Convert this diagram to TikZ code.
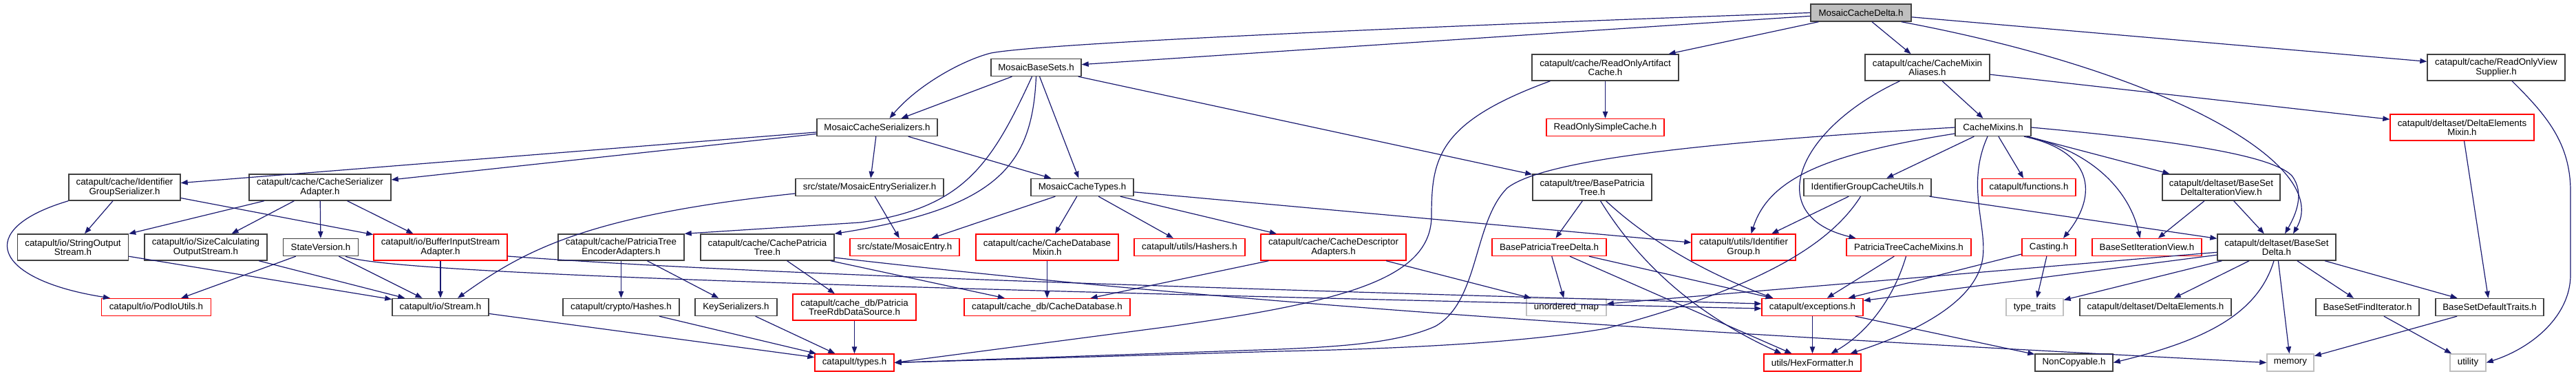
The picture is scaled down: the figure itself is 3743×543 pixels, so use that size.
\documentclass[tikz,border=0pt]{standalone}
\usepackage{fontspec}
\setmainfont{Liberation Sans}
\usetikzlibrary{arrows.meta}
\definecolor{edgec}{HTML}{191970}
\definecolor{bdark}{HTML}{404040}
\definecolor{bgray}{HTML}{BFBFBF}
\definecolor{bred}{HTML}{FF0000}
\begin{document}
\begin{tikzpicture}[x=1pt,y=-1pt,
  box/.style={draw=bdark, line width=1.4pt, rectangle, inner sep=0pt, align=center,
    font=\fontsize{13.33}{13.3}\selectfont, fill=white},
  redbox/.style={box, draw=bred},
  graybox/.style={box, draw=bgray},
  rootbox/.style={box, fill=bgray},
  one/.style={minimum height=25pt},
  two/.style={minimum height=38pt},
  conn/.style={draw=edgec, line width=1.2pt, -{Triangle[length=10pt,width=7.5pt]}},
]
\useasboundingbox (0,0) rectangle (3743,543);
% rank 0
\node[rootbox, one, minimum width=146pt] (delta) at (2704,18.5) {MosaicCacheDelta.h};
% rank 1
\node[box, one, minimum width=131pt] (basesets) at (1505.5,98) {MosaicBaseSets.h};
\node[box, two, minimum width=213pt] (roac) at (2332.5,98) {catapult/cache/ReadOnlyArtifact\\Cache.h};
\node[box, two, minimum width=181pt] (mixal) at (2800.5,98) {catapult/cache/CacheMixin\\Aliases.h};
\node[box, two, minimum width=200pt] (rovs) at (3627,98) {catapult/cache/ReadOnlyView\\Supplier.h};
% rank 2
\node[box, one, minimum width=175pt] (serials) at (1274.5,185) {MosaicCacheSerializers.h};
\node[redbox, one, minimum width=171pt] (rosc) at (2332.5,185) {ReadOnlySimpleCache.h};
\node[box, one, minimum width=110pt] (cmix) at (2896,185) {CacheMixins.h};
\node[redbox, two, minimum width=209pt] (demix) at (3577.5,185) {catapult/deltaset/DeltaElements\\Mixin.h};
% rank 3
\node[box, two, minimum width=162pt] (idgs) at (181,272) {catapult/cache/Identifier\\GroupSerializer.h};
\node[box, two, minimum width=206pt] (csa) at (465,272) {catapult/cache/CacheSerializer\\Adapter.h};
\node[box, one, minimum width=215pt] (mes) at (1263.5,272) {src/state/MosaicEntrySerializer.h};
\node[box, one, minimum width=149pt] (mct) at (1572.5,272) {MosaicCacheTypes.h};
\node[box, two, minimum width=173pt] (bpt) at (2313.5,272) {catapult/tree/BasePatricia\\Tree.h};
\node[box, one, minimum width=185pt] (igcu) at (2713.5,272) {IdentifierGroupCacheUtils.h};
\node[redbox, one, minimum width=136pt] (func) at (2948,272) {catapult/functions.h};
\node[box, two, minimum width=171pt] (bsdiv) at (3227.5,272) {catapult/deltaset/BaseSet\\DeltaIterationView.h};
% rank 4
\node[box, two, minimum width=161pt] (sos) at (106,359) {catapult/io/StringOutput\\Stream.h};
\node[box, two, minimum width=178pt] (scos) at (299,359) {catapult/io/SizeCalculating\\OutputStream.h};
\node[box, one, minimum width=109pt] (sv) at (466,359) {StateVersion.h};
\node[redbox, two, minimum width=194pt] (bisa) at (640,359) {catapult/io/BufferInputStream\\Adapter.h};
\node[box, two, minimum width=183pt] (ptea) at (902.5,359) {catapult/cache/PatriciaTree\\EncoderAdapters.h};
\node[box, two, minimum width=194pt] (cpt) at (1115,359) {catapult/cache/CachePatricia\\Tree.h};
\node[redbox, one, minimum width=159pt] (me) at (1314.5,359) {src/state/MosaicEntry.h};
\node[redbox, two, minimum width=207pt] (cdm) at (1521.5,359) {catapult/cache/CacheDatabase\\Mixin.h};
\node[redbox, one, minimum width=161pt] (hashers) at (1728.5,359) {catapult/utils/Hashers.h};
\node[redbox, two, minimum width=211pt] (cda) at (1937.5,359) {catapult/cache/CacheDescriptor\\Adapters.h};
\node[redbox, one, minimum width=166pt] (bptd) at (2251,359) {BasePatriciaTreeDelta.h};
\node[redbox, two, minimum width=151pt] (idg) at (2533.5,359) {catapult/utils/Identifier\\Group.h};
\node[redbox, one, minimum width=181pt] (ptcm) at (2773.5,359) {PatriciaTreeCacheMixins.h};
\node[redbox, one, minimum width=78pt] (cast) at (2977,359) {Casting.h};
\node[redbox, one, minimum width=159pt] (bsiv) at (3119.5,359) {BaseSetIterationView.h};
\node[box, two, minimum width=172pt] (bsd) at (3308,359) {catapult/deltaset/BaseSet\\Delta.h};
% rank 5
\node[redbox, one, minimum width=159pt] (podio) at (227,446) {catapult/io/PodIoUtils.h};
\node[box, one, minimum width=140pt] (stream) at (640,446) {catapult/io/Stream.h};
\node[box, one, minimum width=169pt] (hashes) at (902.5,446) {catapult/crypto/Hashes.h};
\node[box, one, minimum width=119pt] (keyser) at (1069.5,446) {KeySerializers.h};
\node[redbox, two, minimum width=179pt] (ptrds) at (1241.5,446) {catapult/cache\_db/Patricia\\TreeRdbDataSource.h};
\node[redbox, one, minimum width=241pt] (cdb) at (1521.5,446) {catapult/cache\_db/CacheDatabase.h};
\node[graybox, one, minimum width=116pt] (umap) at (2276,446) {unordered\_map};
\node[redbox, one, minimum width=147pt] (exc) at (2633.5,446) {catapult/exceptions.h};
\node[graybox, one, minimum width=83pt] (tt) at (2956.5,446) {type\_traits};
\node[box, one, minimum width=220pt] (delel) at (3132,446) {catapult/deltaset/DeltaElements.h};
\node[box, one, minimum width=150pt] (bsfi) at (3440,446) {BaseSetFindIterator.h};
\node[box, one, minimum width=157pt] (bsdt) at (3617.5,446) {BaseSetDefaultTraits.h};
% rank 6
\node[redbox, one, minimum width=115pt] (types) at (1241.5,526.5) {catapult/types.h};
\node[redbox, one, minimum width=141pt] (hexf) at (2633.5,526.5) {utils/HexFormatter.h};
\node[box, one, minimum width=113pt] (noncp) at (3013.5,526.5) {NonCopyable.h};
\node[graybox, one, minimum width=68pt] (memory) at (3328,526.5) {memory};
\node[graybox, one, minimum width=52pt] (utility) at (3586,526.5) {utility};

% ---- edges ----
% MosaicCacheDelta
\draw[conn] (delta.west) .. controls (2100,37) and (1520,62) .. (1440,77) .. controls (1400,87) and (1335,122) .. ([xshift=18pt]serials.north);
\draw[conn] (delta) -- (basesets);
\draw[conn] (delta) -- (roac);
\draw[conn] (delta) -- (mixal);
\draw[conn] (delta) -- (rovs);
\draw[conn] ([xshift=-15pt]delta.south east) .. controls (3150,104) and (3390,240) .. ([xshift=24pt]bsd.north);
% MosaicBaseSets
\draw[conn] (basesets) -- (serials);
\draw[conn] (basesets) -- (mct);
\draw[conn] (basesets) -- (bpt);
\draw[conn] ([xshift=-6pt]basesets.south) .. controls (1440,240) and (1400,302) .. (1250,323) -- (ptea.north east);
\draw[conn] (basesets.south) .. controls (1500,240) and (1450,302) .. (cpt.north east);
% MosaicCacheSerializers
\draw[conn] (serials) -- (idgs);
\draw[conn] (serials) -- (csa);
\draw[conn] (serials) -- (mes);
\draw[conn] (serials) -- (mct);
% MosaicEntrySerializer
\draw[conn] (mes) -- (me);
\draw[conn] ([yshift=-9pt]mes.west) .. controls (850,313) and (760,365) .. ([xshift=25pt]stream.north);
% MosaicCacheTypes
\draw[conn] (mct) -- (me);
\draw[conn] (mct) -- (cdm);
\draw[conn] (mct) -- (hashers);
\draw[conn] (mct) -- (cda);
\draw[conn] (mct) -- (idg);
% ReadOnlyArtifactCache
\draw[conn] (roac) -- (rosc);
\draw[conn] ([xshift=-80pt]roac.south) .. controls (2090,177) and (2080,229) .. (2080,313) .. controls (2080,406) and (1950,438) .. (1700,474) -- (types.east);
% CacheMixinAliases
\draw[conn] (mixal) -- (cmix);
\draw[conn] ([xshift=-40pt]mixal.south) .. controls (2610,188) and (2560,313) .. ([xshift=-77pt]ptcm.north);
\draw[conn] (mixal) -- (demix);
% CacheMixins
\draw[conn] (cmix.west) .. controls (2450,208) and (2240,234) .. (2190,273) .. controls (2140,323) and (2150,438) .. (2085,474) .. controls (2030,498) and (1950,503) .. (1860,507) -- (types.east);
\draw[conn] ([yshift=-9pt]cmix.west) .. controls (2650,224) and (2570,260) .. ([xshift=11pt]idg.north);
\draw[conn] (cmix) -- (igcu);
\draw[conn] ([xshift=-8pt]cmix.south) .. controls (2855,271) and (2890,333) .. (2880,380) .. controls (2865,448) and (2760,490) .. ([xshift=55pt]hexf.north);
\draw[conn] (cmix) -- (func);
\draw[conn] ([xshift=45pt]cmix.south) .. controls (3040,219) and (3050,281) .. ([xshift=21pt]cast.north);
\draw[conn] ([xshift=49pt]cmix.south) .. controls (3045,221) and (3095,281) .. ([xshift=-10pt]bsiv.north);
\draw[conn] (cmix) -- (bsdiv);
\draw[conn] (cmix.east) .. controls (3150,203) and (3300,224) .. (3330,255) .. controls (3350,281) and (3335,313) .. ([xshift=12pt]bsd.north);
% IdentifierGroupCacheUtils
\draw[conn] (igcu) -- (idg);
\draw[conn] ([xshift=-10pt]igcu.south) .. controls (2660,354) and (2560,417) .. (2333,477) .. controls (2200,500) and (2000,507) .. (1860,510) -- (types.east);
\draw[conn] (igcu) -- (bsd);
% PatriciaTreeCacheMixins
\draw[conn] (ptcm) -- (exc);
\draw[conn] ([xshift=-4pt]ptcm.south) .. controls (2750,438) and (2710,485) .. ([xshift=27pt]hexf.north);
% Casting
\draw[conn] (cast) -- (exc);
\draw[conn] (cast) -- (tt);
% exceptions
\draw[conn] (exc) -- (hexf);
\draw[conn] (exc) -- (noncp);
% BaseSetDeltaIterationView
\draw[conn] (bsdiv) -- (bsiv);
\draw[conn] (bsdiv) -- (bsd);
% BaseSetDelta
\draw[conn] (bsd) -- (delel);
\draw[conn] (bsd) -- (bsfi);
\draw[conn] (bsd) -- (bsdt);
\draw[conn] (bsd) -- (memory);
\draw[conn] ([xshift=-4pt]bsd.south) .. controls (3280,458) and (3200,495) .. (noncp.east);
\draw[conn] (bsd) -- (exc);
\draw[conn] (bsd) -- (tt);
\draw[conn] (bsd) -- (umap);
% DeltaElementsMixin
\draw[conn] (demix) -- (bsdt);
% ReadOnlyViewSupplier
\draw[conn] ([xshift=23pt]rovs.south) .. controls (3700,167) and (3735,208) .. (3735,278) -- (3735,399) .. controls (3735,458) and (3680,505) .. (utility.east);
\draw[conn] (bsfi) -- (utility);
\draw[conn] (bsdt) -- (memory);
% BasePatriciaTree
\draw[conn] (bpt) -- (bptd);
\draw[conn] ([xshift=12pt]bpt.south) .. controls (2390,396) and (2480,464) .. ([xshift=-45pt]hexf.north);
\draw[conn] ([xshift=20pt]bpt.south) .. controls (2400,354) and (2490,401) .. ([xshift=-57pt]exc.north);
% BasePatriciaTreeDelta
\draw[conn] (bptd) -- (umap);
\draw[conn] (bptd) -- (hexf);
\draw[conn] (bptd) -- (exc);
% IdentifierGroupSerializer
\draw[conn] (idgs) -- (sos);
\draw[conn] (idgs.south west) .. controls (-40,333) and (-10,406) .. ([xshift=-67pt]podio.north);
\draw[conn] (idgs) -- (bisa);
% CacheSerializerAdapter
\draw[conn] (csa) -- (sos);
\draw[conn] (csa) -- (scos);
\draw[conn] (csa) -- (sv);
\draw[conn] (csa) -- (bisa);
% streams
\draw[conn] (sos) -- (stream);
\draw[conn] (scos) -- (stream);
\draw[conn] (sv) -- (podio);
\draw[conn] (sv) -- (stream);
\draw[conn] ([xshift=36pt]sv.south) .. controls (560,396) and (1200,417) .. ([yshift=-2pt]exc.west);
\draw[conn] (bisa) -- (stream);
\draw[conn] ([yshift=-13pt]bisa.east) .. controls (1000,391) and (1400,409) .. ([yshift=5pt]exc.west);
% PatriciaTreeEncoderAdapters
\draw[conn] (ptea) -- (hashes);
\draw[conn] (ptea) -- (keyser);
% CachePatriciaTree
\draw[conn] (cpt) -- (ptrds);
\draw[conn] (cpt) -- (cdb);
\draw[conn] ([yshift=-15pt]cpt.east) .. controls (1900,453) and (2600,490) .. (memory.west);
% to types
\draw[conn] (ptrds) -- (types);
\draw[conn] (hashes) -- (types);
\draw[conn] (keyser) -- (types);
\draw[conn] (stream) -- (types);
% cache db
\draw[conn] (cdm) -- (cdb);
\draw[conn] (cda) -- (cdb);
\draw[conn] (cda) -- (umap);
\end{tikzpicture}
\end{document}
